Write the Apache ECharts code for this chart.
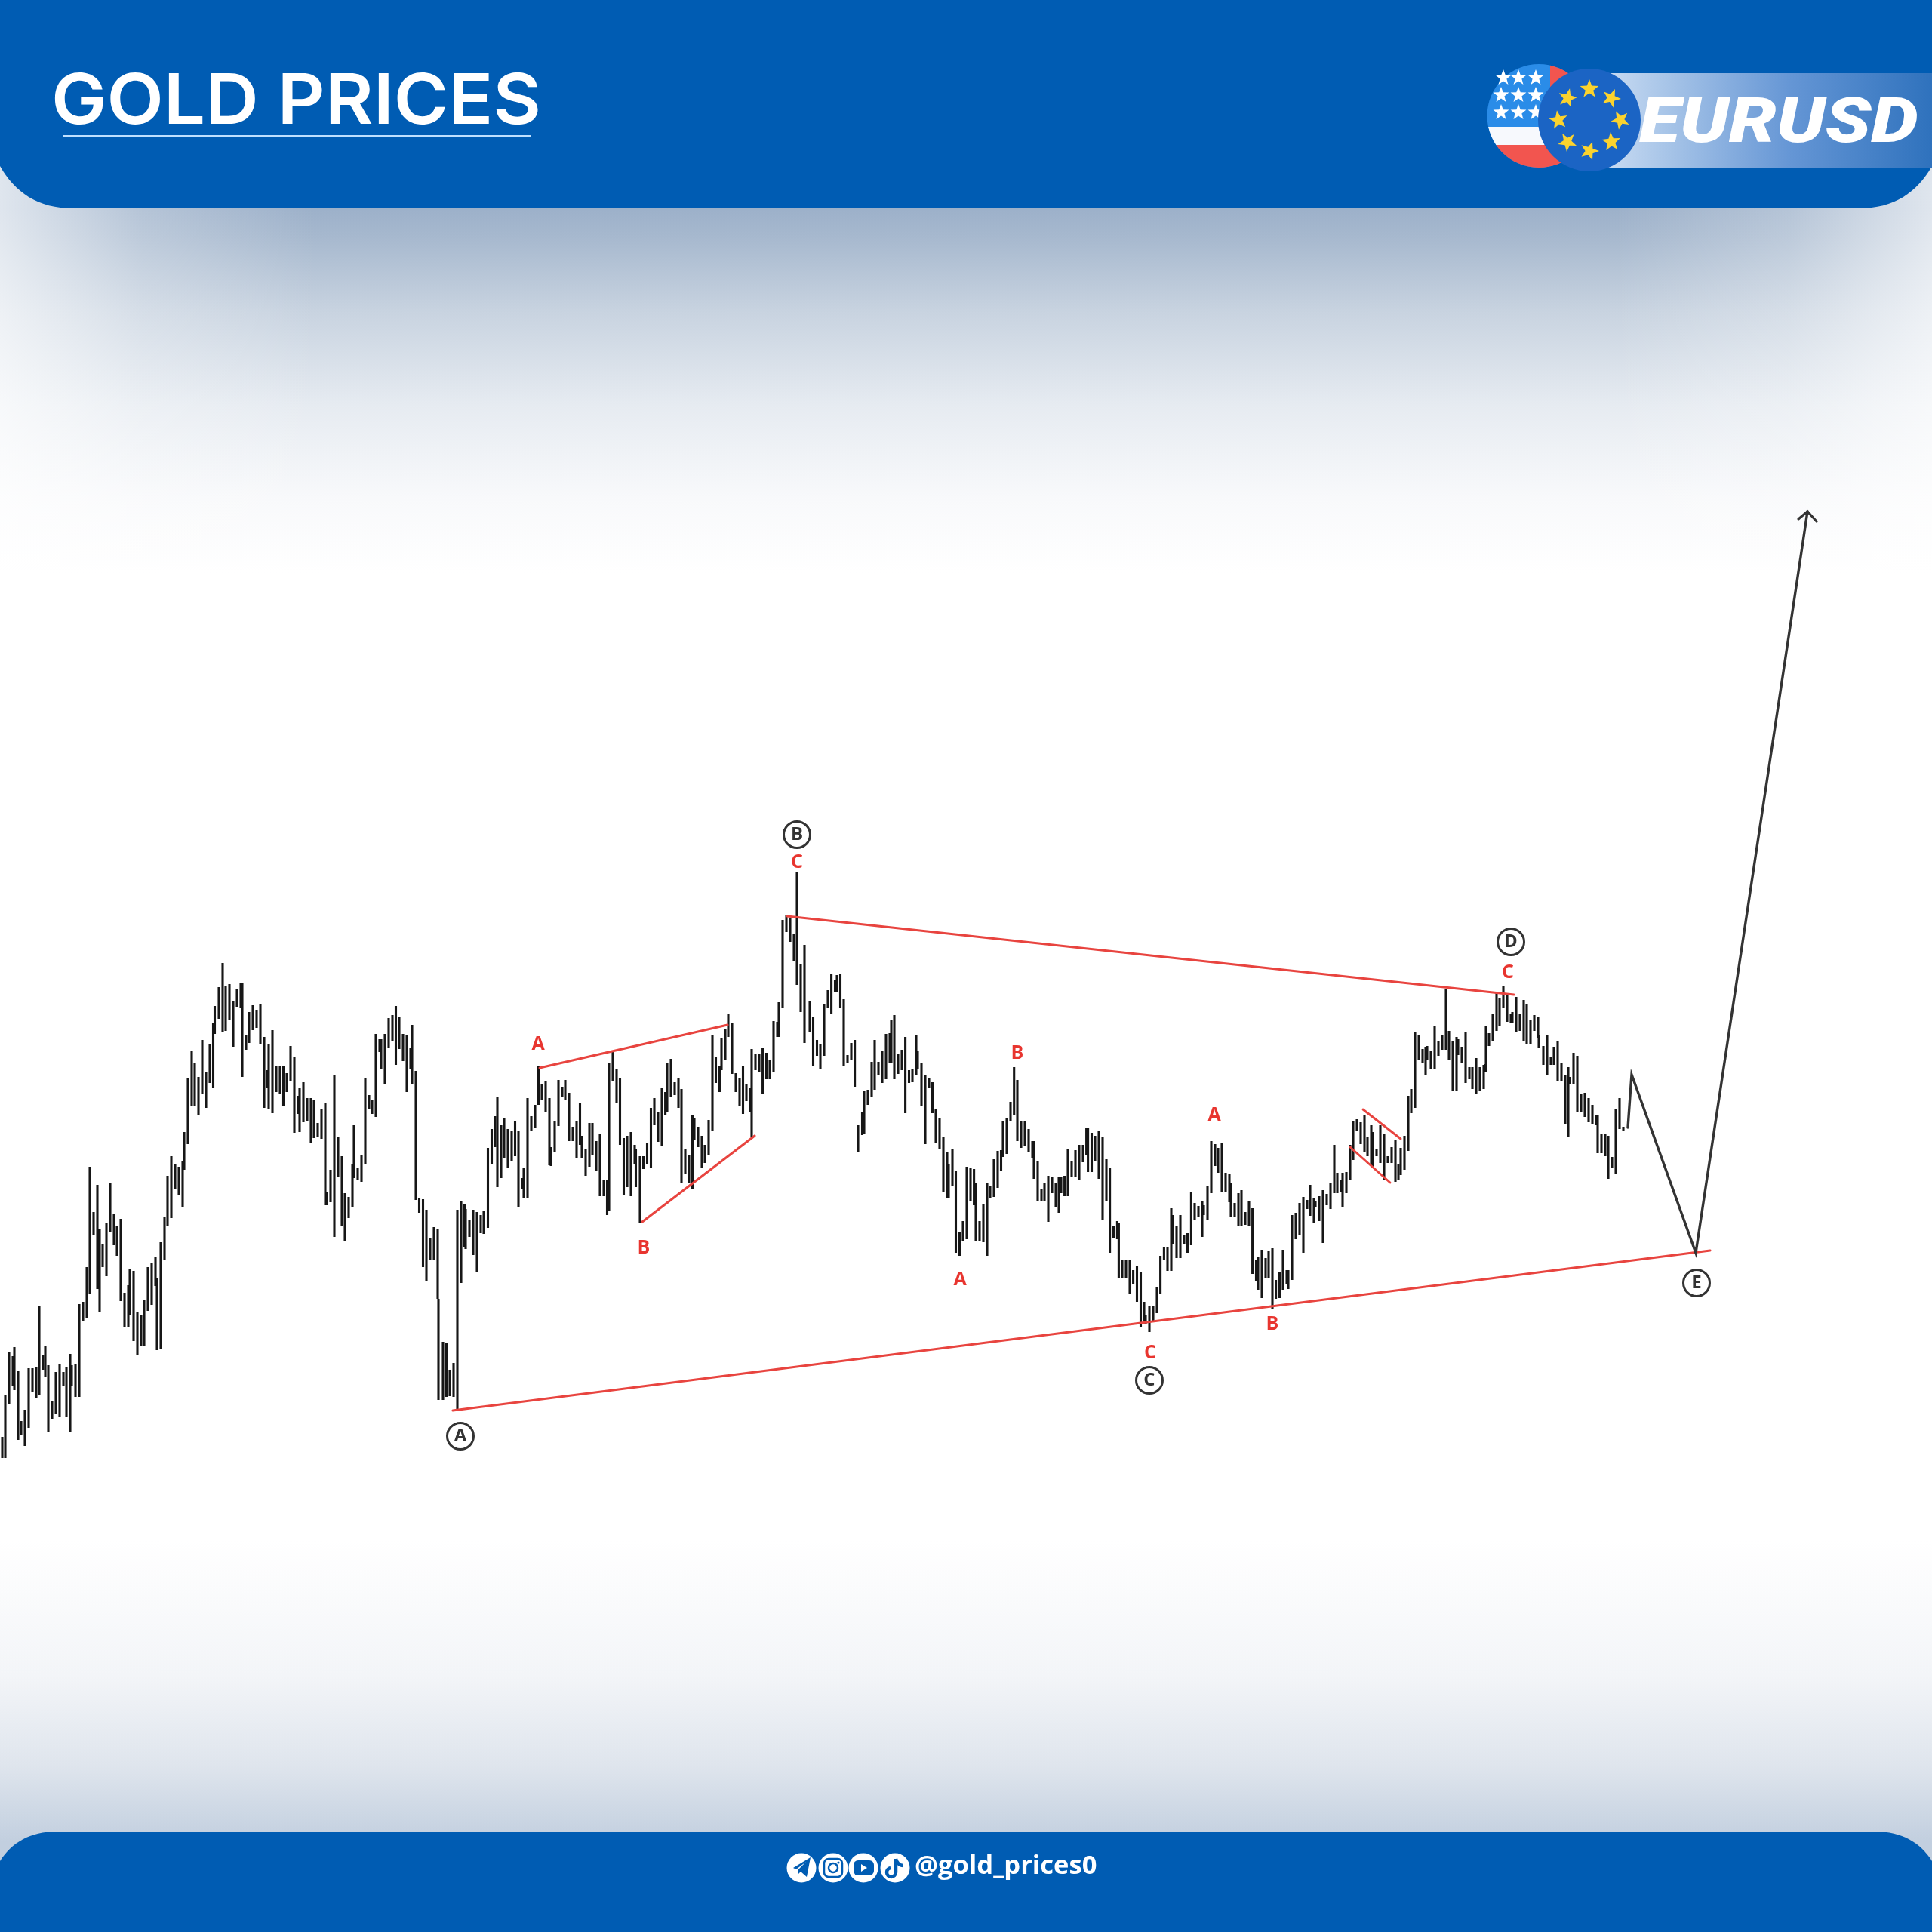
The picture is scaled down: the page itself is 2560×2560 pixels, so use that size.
<!DOCTYPE html>
<html><head><meta charset="utf-8">
<style>html,body{margin:0;padding:0;background:#fff}#c{width:2560px;height:2560px}</style>
<script src="https://cdn.jsdelivr.net/npm/echarts@6/dist/echarts.min.js"></script>
</head><body><div id="c"></div>
<script>
// Bars. There is no labelled axis, so the units are the picture's own.
const barX=[3,7,12,17,19,24,28,33,38,43,48,52,57,60,64,69,74,79,84,88,93,95,100,105,110,115,119,124,129,131,132,136,141,146,151,155,160,165,170,172,177,182,187,191,196,201,206,208,213,218,222,227,232,237,242,244,
249,254,258,263,268,273,278,282.5,284.5,290,295,299,304,309,314,319,321,326,330,335,340,345,350,354,356,361,366,371,375.5,380,385,390,395,397,402,407,412,416,421,426,431,433,438,443,448,453,457,462,467,469,474,479,484,489,493,498,503,505,510,515,520,524.5,529,534,539,544,546,551,555.5,560.5,565,570,575,580,581,587,591.5,596,601,606,611,615.5,617,622,627,632,637,
641,646.5,651.5,656,659,664,668,673,678,682.5,687,692,694,699,704,709,713.5,718,723,728,730,735,740,745,749,754,759,764,768.5,771,776,781,785,790,795,800,804.5,807,812,817,821.5,826.5,831,836,841,842.5,848,852.5,857.5,862.5,867,872,877,881.6,884,889,894,899,903,908,913,917.5,920,925,930,934,939,944,948.5,953.5,956,961,965,970,975,980,984.5,989,994,996,1001,1006,1010.6,1015.5,1020,1025,1030,1032,1037,1042,1047,1052,1056,1061,1066,1073,1077.5,1082.5,1087,1092,1097,1101.6,1106.5,1109,1113.5,1118,1123,1128,1132.6,1137,1142.5,1145,1150,1155,1159,1164,1169,1174,1179,1181,1185,1190,1195,1199.6,1204.5,1209,1214,1216,
1221,1226,1231,1235.5,1240,1245,1250,1255,1257,1262,1266.5,1271.5,1276,1281,1286,1290.6,1293,1298,1303,1308,1312,1317,1322,1326.5,1329,1334,1339,1343.7,1348,1353,1358,1363,1368,1370,1375,1380,1384,1389,1394,1399,1403,1406,1410.6,1415,1420,1425,1430,1435,1439.6,1441.6,1446.5,1451,1456,1461,1466,1470.6,1475.5,1480.4,1482.4,1487,1492,1497,1501.6,1506.5,1511.5,1516,1518,1523,1528,1533,1537.6,1542.4,1547,1552,1554,1559,1564,1569,1573.5,1578.4,1583,1588,1593,1595,1600,1605,1610,1614,1619,1624,1629,1631,1636,1641,1645,1650,1655,1659.6,1664.5,1667,1672,1677,1681,1686,1690.6,1695.5,1700,1705,1707,1712,1717,1722,1727,1732,1736,1741,1743,1748,1753,1758,1763,1768,1772,1777,1779,
1784,1789,1793,1798,1803,1808,1812,1817,1819,1824,1829,1834,1839,1844,1849,1853,1856,1861,1866,1870,1875,1880,1885,1889,1891,1896,1901,1906,1911,1916,1920,1925,1930,1932,1937,1942,1947,1951,1956,1961,1966,1968,1969,1973,1978,1983,1987,1992,1997,2002,2004,2009,2014,2019,2023,2028,2033,2038,2039,2045,2050,2055,2059,2064,2069,2074,2078,2080,2085,2090,2095,2100,2105,2110,2115,2117,2122,2127,2131,2136,2141,2146,2151];
const barHigh=[1904,1849,1792,1797,1785,1816,1883,1868,1813,1813,1811,1730,1795,1783,1809,1857,1818,1807,1818,1811,1794,1809,1807,1728,1725,1679,1546,1606,1570,1629,1629,1648,1620,1567,1608,1625,1615,1713,1703,1682,1684,1739,1742,1723,1679,1673,1665,1694,1646,1613,1558,1532,1543,1546,1538,1500,
1429,1393,1409,1427,1378,1420,1383,1355,1333,1308,1276,1307,1304,1326,1311,1302,1302,1371,1341,1332,1338,1330,1374,1418,1383,1365,1412,1412,1413,1422,1386,1400,1452,1442,1434,1455,1455,1457,1488,1469,1462,1580,1550,1424,1507,1532,1581,1586,1542,1491,1547,1530,1429,1451,1457,1370,1377,1377,1370,1349,1345,1333,1348,1370,1371,1389,1358,1419,1587,1589,1603,1641,1626,1629,1721,1778,1780,1815,1806,1603,1592,1595,1602,1617,1603,1606,1610,
1604,1521,1496,1479,1454,1491,1481,1496,1498,1486,1498,1561,1548,1455,1479,1464,1412,1437,1432,1455,1520,1486,1431,1440,1431,1448,1493,1486,1462,1505,1522,1488,1488,1512,1503,1563,1564,1409,1394,1417,1429,1508,1505,1500,1517,1522,1532,1532,1515,1468,1455,1474,1441,1447,1408,1403,1434,1429,1443,1522,1530,1477,1481,1493,1505,1517,1484,1371,1400,1413,1375,1364,1344,1355,1422,1428,1412,1436,1442,1390,1396,1397,1388,1395,1404,1353,1354,1328,1219,1212,1217,1238,1155,1278,1252,1326,1348,1378,1384,1331,1312,1291,1299,1292,1291,1324,1398,1382,1378,1491,1474,1445,1444,1407,1378,1407,1393,1370,1369,1352,1345,1396,1391,1374,1418,1417,1372,1392,
1409,1424,1429,1434,1469,1481,1506,1527,1543,1522,1551,1632,1618,1546,1548,1549,1568,1618,1595,1568,1571,1536,1525,1524,1486,1481,1460,1414,1431,1486,1486,1496,1512,1512,1538,1575,1567,1558,1560,1568,1560,1560,1558,1522,1539,1524,1517,1517,1495,1495,1501,1505,1498,1507,1536,1548,1625,1618,1620,1669,1669,1670,1683,1678,1685,1725,1742,1730,1730,1706,1664,1653,1653,1601,1610,1625,1610,1637,1634,1579,1594,1598,1591,1597,1572,1512,1516,1521,1515,1554,1556,1567,1594,1581,1577,1606,1591,1601,1670,1665,1656,1667,1658,1654,1696,1685,1656,1683,1683,1610,1607,1594,1586,1590,1570,1587,1592,1585,1577,1582,1567,1517,1554,1564,1554,
1553,1517,1486,1483,1487,1477,1507,1491,1500,1523,1491,1503,1532,1520,1510,1543,1521,1505,1452,1443,1367,1371,1390,1387,1386,1393,1359,1379,1371,1311,1366,1380,1374,1377,1387,1367,1414,1414,1402,1414,1411,1410,1359,1369,1343,1314,1322,1306,1317,1343,1341,1321,1343,1325,1330,1352,1345,1347,1371,1386,1371,1400,1387,1379,1409,1425,1414,1427,1395,1399,1450,1448,1455,1464,1477,1477,1503,1503,1505,1533,1469,1455,1493];
const barLow=[1932,1932,1861,1837,1842,1908,1902,1916,1892,1844,1853,1849,1815,1825,1897,1880,1873,1878,1837,1878,1897,1837,1851,1851,1751,1746,1715,1636,1708,1708,1739,1679,1691,1633,1650,1664,1724,1758,1758,1743,1777,1796,1784,1784,1737,1729,1704,1789,1787,1669,1624,1614,1576,1583,1600,1550,
1516,1466,1466,1478,1450,1468,1435,1441,1370,1350,1367,1366,1351,1387,1334,1335,1427,1391,1382,1365,1362,1384,1468,1441,1470,1475,1447,1450,1466,1447,1432,1501,1476,1500,1487,1486,1514,1508,1507,1509,1597,1597,1593,1639,1559,1624,1645,1614,1600,1561,1564,1566,1542,1470,1476,1480,1394,1416,1437,1389,1379,1411,1390,1406,1447,1416,1437,1590,1607,1679,1698,1669,1669,1721,1855,1855,1851,1850,1851,1869,1700,1653,1655,1639,1663,1686,1634,
1635,1627,1543,1520,1573,1561,1534,1547,1539,1532,1600,1576,1588,1588,1499,1494,1464,1458,1473,1544,1545,1526,1492,1454,1458,1512,1512,1534,1517,1534,1558,1546,1530,1551,1585,1585,1610,1605,1433,1462,1517,1583,1573,1585,1542,1573,1621,1549,1543,1548,1491,1513,1518,1478,1474,1454,1451,1468,1568,1556,1568,1576,1510,1520,1548,1541,1530,1498,1435,1447,1418,1404,1374,1423,1447,1466,1476,1459,1474,1506,1418,1420,1450,1430,1430,1420,1374,1374,1335,1235,1248,1273,1305,1341,1382,1367,1412,1399,1416,1399,1335,1343,1314,1314,1336,1412,1409,1404,1440,1526,1504,1503,1464,1453,1444,1425,1435,1430,1408,1409,1430,1423,1418,1475,1435,1434,1424,1417,
1466,1516,1442,1475,1514,1523,1579,1588,1588,1572,1660,1664,1644,1642,1591,1597,1644,1644,1646,1664,1588,1586,1574,1551,1533,1529,1486,1478,1512,1521,1518,1526,1535,1562,1591,1591,1591,1619,1581,1600,1607,1581,1585,1585,1560,1560,1564,1540,1530,1553,1553,1539,1562,1617,1591,1660,1641,1642,1693,1693,1693,1715,1702,1725,1759,1755,1754,1765,1751,1740,1715,1670,1684,1684,1648,1667,1667,1648,1660,1650,1616,1612,1639,1610,1617,1581,1545,1554,1579,1579,1593,1612,1612,1625,1625,1623,1625,1688,1698,1709,1720,1694,1694,1734,1721,1720,1709,1702,1708,1696,1642,1637,1660,1602,1611,1620,1600,1618,1647,1597,1602,1581,1581,1579,1600,
1581,1564,1537,1499,1516,1527,1532,1545,1548,1532,1541,1563,1541,1541,1566,1564,1557,1550,1525,1475,1468,1404,1408,1425,1404,1416,1416,1399,1391,1391,1405,1446,1445,1398,1409,1435,1430,1443,1450,1446,1443,1420,1421,1386,1380,1366,1359,1335,1354,1355,1355,1368,1366,1380,1384,1384,1366,1375,1389,1411,1425,1411,1411,1432,1432,1490,1506,1436,1436,1473,1473,1480,1487,1490,1491,1528,1528,1532,1562,1547,1556,1496,1499];

const trendLowerX=[600,2266], trendLowerY=[1869,1657];
const trendUpperX=[1043,2006], trendUpperY=[1214,1318];
const innerAX=[715,964], innerAY=[1415,1358];
const innerBX=[851,1000], innerBY=[1619,1505];
const flagTopX=[1806,1856], flagTopY=[1470,1509];
const flagBotX=[1789,1842], flagBotY=[1520,1567];
const pathX=[2157,2162,2247,2395], pathY=[1494,1424,1660,678];
const headX=[2383,2395,2407], headY=[688,678,691];
const subLabels=['A','B','C','A','B','C','A','B','C'];
const subX=[713,853,1056,1272,1348,1524,1609,1686,1998];
const subY=[1384,1654,1143,1696,1396,1793,1478,1755,1289];
const waveLabels=['A','B','C','D','E'];
const waveX=[610,1056,1523,2002,2248];
const waveY=[1903,1106,1829,1248,1700];

const RED='#e8443f', BLUE='#005cb3';
const zip=(a,b)=>a.map((v,i)=>[v,b[i]]);
const lineSeries=(xs,ys,color,w)=>({type:'line',data:zip(xs,ys),showSymbol:false,silent:true,animation:false,
  lineStyle:{color,width:w,cap:'round',join:'miter'},z:4});
function star(cx,cy,r,rot){const p=[];for(let i=0;i<10;i++){const a=-Math.PI/2+(rot||0)+i*Math.PI/5,q=i%2?r*0.42:r;p.push([cx+q*Math.cos(a),cy+q*Math.sin(a)]);}return p;}
const shadow={shadowBlur:14,shadowColor:'rgba(0,30,80,.55)',shadowOffsetY:5};
const vGrad=(s)=>({type:'linear',x:0,y:0,x2:0,y2:1,colorStops:s});
const hGrad=(s)=>({type:'linear',x:0,y:0,x2:1,y2:0,colorStops:s});
const usC=[2039,153.5,68.5], euC=[2106,159,68];
const gfx=[];
// page shading
gfx.push({type:'rect',shape:{x:0,y:200,width:2560,height:560},style:{fill:vGrad([{offset:0,color:'#9bb0c9'},{offset:.14,color:'#9db1ca'},{offset:.2,color:'#a6b8ce'},{offset:.38,color:'#c8d3e0'},{offset:.6,color:'#e6ebf1'},{offset:.82,color:'#f8f9fb'},{offset:1,color:'#ffffff'}])}});
gfx.push({type:'rect',shape:{x:0,y:200,width:420,height:560},style:{fill:hGrad([{offset:0,color:'rgba(255,255,255,.68)'},{offset:.45,color:'rgba(255,255,255,.25)'},{offset:1,color:'rgba(255,255,255,0)'}])}});
gfx.push({type:'rect',shape:{x:2140,y:200,width:420,height:560},style:{fill:hGrad([{offset:0,color:'rgba(255,255,255,0)'},{offset:.55,color:'rgba(255,255,255,.25)'},{offset:1,color:'rgba(255,255,255,.68)'}])}});
gfx.push({type:'rect',shape:{x:0,y:2040,width:2560,height:440},style:{fill:vGrad([{offset:0,color:'#ffffff'},{offset:.41,color:'#f3f5f8'},{offset:.68,color:'#dfe5ed'},{offset:.91,color:'#c2cfdf'},{offset:1,color:'#c2cfdf'}])}});
// header and footer panels
gfx.push({type:'path',shape:{pathData:'M0 0 L2560 0 L2560 220 C2540 255 2510 276 2463 276 L97 276 C50 276 20 255 0 220 Z'},style:{fill:BLUE}});
gfx.push({type:'path',shape:{pathData:'M0 2466 C15 2442 40 2427 75 2427 L2485 2427 C2520 2427 2545 2442 2560 2466 L2560 2560 L0 2560 Z'},style:{fill:BLUE}});
// title
gfx.push({type:'text',x:68,y:136,scaleX:1.065,style:{text:'GOLD PRICES',font:'600 92px Inter',fill:'#fff',textAlign:'left',textVerticalAlign:'middle',...shadow}});
gfx.push({type:'rect',shape:{x:84,y:179,width:620,height:2.5},style:{fill:'#bfe0ff'}});
// banner
gfx.push({type:'rect',shape:{x:2090,y:97,width:470,height:125},style:{fill:hGrad([{offset:0,color:'#d8e6f7'},{offset:.25,color:'#a8c5e8'},{offset:.6,color:'#6596d5'},{offset:1,color:'#2f72bd'}])}});
// US disc
gfx.push({type:'circle',shape:{cx:usC[0],cy:usC[1],r:usC[2]},style:{fill:'#2a8ce8'}});
function seg(y1,y2,fill){const[c,cy,r]=usC;const xa=y=>Math.sqrt(Math.max(0,r*r-(y-cy)*(y-cy)));const d1=xa(y1),d2=xa(y2);
 gfx.push({type:'path',shape:{pathData:`M${c-d1} ${y1} L${c+d1} ${y1} A${r} ${r} 0 0 1 ${c+d2} ${y2} L${c-d2} ${y2} A${r} ${r} 0 0 1 ${c-d1} ${y1} Z`},style:{fill}});}
(function(){const[c,cy,r]=usC;const dx=2054-c,dy=Math.sqrt(r*r-dx*dx);
 gfx.push({type:'path',shape:{pathData:`M2054 ${cy-dy} A${r} ${r} 0 0 1 2054 ${cy+dy} Z`},style:{fill:'#f2554f'}});})();
seg(168,192,'#f7f9fd');
gfx.push({type:'path',shape:{pathData:(function(){const[c,cy,r]=usC;const y=192,d=Math.sqrt(r*r-(y-cy)*(y-cy));return `M${c-d} ${y} L${c+d} ${y} A${r} ${r} 0 0 1 ${c-d} ${y} Z`;})()},style:{fill:'#f2554f'}});
[103,126,149].forEach(y=>[1989,2012,2035].forEach(x=>{if(x===1989&&y===103)x=1992;gfx.push({type:'polygon',shape:{points:star(x,y,11)},style:{fill:'#fff'}});}));
// EU disc
gfx.push({type:'circle',shape:{cx:euC[0],cy:euC[1],r:euC[2]},style:{fill:'#1b64c4'}});
for(let i=0;i<8;i++){const a=i*Math.PI/4;gfx.push({type:'polygon',shape:{points:star(euC[0]+41*Math.sin(a),euC[1]-41*Math.cos(a),13,a*0.5)},style:{fill:'#fbd32e'}});}
gfx.push({type:'text',x:2172,y:167,scaleX:1.19,style:{text:'EURUSD',font:'italic 900 84px Roboto',fill:'#fff',textAlign:'left',textVerticalAlign:'middle',...shadow}});
// footer icons
[1062,1104,1144,1186].forEach(x=>gfx.push({type:'circle',shape:{cx:x,cy:2475,r:19.5},style:{fill:'#fff'}}));
gfx.push({type:'path',shape:{pathData:'M1051 2475 L1074 2461 L1069 2487 L1061 2480 L1057 2484 L1057 2478 L1068 2467 L1055 2477 Z'},style:{fill:BLUE}});
gfx.push({type:'rect',shape:{x:1092,y:2463,width:24,height:24,r:6},style:{fill:'none',stroke:BLUE,lineWidth:2.5}});
gfx.push({type:'circle',shape:{cx:1104,cy:2475,r:6},style:{fill:'none',stroke:BLUE,lineWidth:2.5}});
gfx.push({type:'circle',shape:{cx:1111,cy:2468,r:1.6},style:{fill:BLUE}});
gfx.push({type:'rect',shape:{x:1131,y:2465,width:27,height:20,r:6},style:{fill:BLUE}});
gfx.push({type:'polygon',shape:{points:[[1141,2470],[1149,2475],[1141,2480]]},style:{fill:'#fff'}});
gfx.push({type:'path',shape:{pathData:'M1187 2463 L1187 2481 A6 6 0 1 1 1180 2475 M1187 2463 C1188 2468 1192 2472 1197 2472'},style:{fill:'none',stroke:BLUE,lineWidth:4.5}});
gfx.push({type:'text',x:1212,y:2473,style:{text:'@gold_prices0',font:'700 34.5px "Open Sans"',fill:'#fff',textAlign:'left',textVerticalAlign:'middle'}});

const option={animation:false,backgroundColor:'#fff',
 grid:{left:0,right:0,top:0,bottom:0,show:false},
 xAxis:{type:'value',min:0,max:2560,show:false},
 yAxis:{type:'value',min:0,max:2560,inverse:true,show:false},
 series:[
  {type:'custom',coordinateSystem:'none',silent:true,animation:false,z:1,data:[[0]],
   renderItem(){return {type:'group',children:gfx};}},
  {type:'custom',silent:true,animation:false,z:3,clip:false,
   data:barX.map((x,i)=>[x,barHigh[i],barLow[i]]),encode:{x:0,y:[1,2]},
   renderItem(p,api){const a=api.coord([api.value(0),api.value(1)]),b=api.coord([api.value(0),api.value(2)]);
     return {type:'line',shape:{x1:a[0],y1:a[1],x2:b[0],y2:b[1]},style:{stroke:'#161616',lineWidth:3.1}};}},
  lineSeries(trendLowerX,trendLowerY,RED,3.1),lineSeries(trendUpperX,trendUpperY,RED,3.1),
  lineSeries(innerAX,innerAY,RED,3.1),lineSeries(innerBX,innerBY,RED,3.1),
  lineSeries(flagTopX,flagTopY,RED,2.9),lineSeries(flagBotX,flagBotY,RED,2.9),
  lineSeries(pathX,pathY,'#333',3.4),lineSeries(headX,headY,'#333',3.2),
  {type:'scatter',silent:true,animation:false,z:5,symbolSize:1,itemStyle:{color:'transparent',opacity:1},
   data:subX.map((x,i)=>({value:[x,subY[i]],label:{formatter:subLabels[i]}})),
   label:{show:true,position:'inside',color:'#e8352f',fontFamily:'Open Sans',fontWeight:700,fontSize:25,opacity:1}},
  {type:'scatter',silent:true,animation:false,z:5,symbolSize:35,itemStyle:{color:'#fff',borderColor:'#333',borderWidth:3,opacity:1},
   data:waveX.map((x,i)=>({value:[x,waveY[i]],label:{formatter:waveLabels[i]}})),
   label:{show:true,position:'inside',color:'#333',fontFamily:'Open Sans',fontWeight:700,fontSize:24}}
 ]};
echarts.init(document.getElementById('c'),null,{renderer:'canvas',width:2560,height:2560}).setOption(option);
if(barX.length!==barHigh.length||barX.length!==barLow.length)console.error('LEN',barX.length,barHigh.length,barLow.length);
</script></body></html>
